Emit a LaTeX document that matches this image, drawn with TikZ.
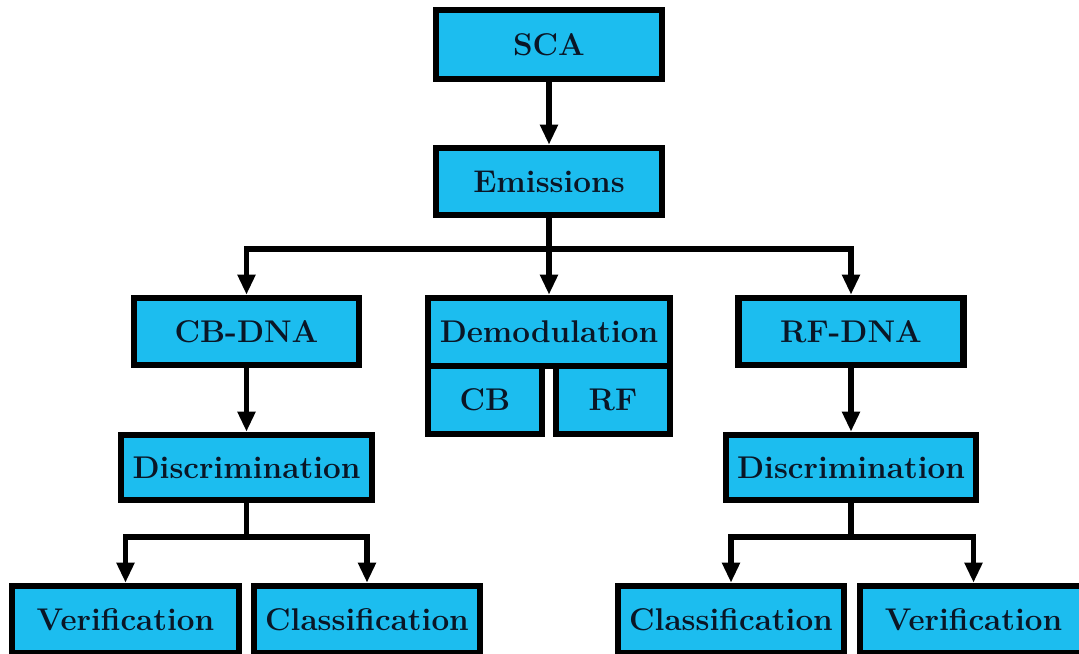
\documentclass[tikz,border=0pt]{standalone}
\usetikzlibrary{arrows.meta}
\definecolor{boxfill}{RGB}{28,189,239}
\definecolor{boxtext}{RGB}{10,22,38}
\begin{document}
\begin{tikzpicture}[x=0.5pt,y=-0.5pt,
  box/.style={draw=black, line width=3.3pt, fill=boxfill, rectangle, inner sep=0pt,
    minimum height=33.5pt, text=boxtext,
    font=\fontsize{15.7}{18}\selectfont\bfseries},
  arr/.style={line width=2.9pt, -{Triangle[width=8.5pt,length=10pt]}},
  ln/.style={line width=2.9pt}]
\useasboundingbox (0,0) rectangle (1079,653);
\clip (0,0) rectangle (1079,653);
\fill[white] (0,0) rectangle (1079,653);
% nodes
\node[box, minimum width=113pt, minimum height=34.5pt] (sca) at (549,44.5) {SCA};
\node[box, minimum width=113pt] (emis) at (549,181.5) {Emissions};
\node[box, minimum width=112.5pt] (cbdna) at (246.5,331.5) {CB-DNA};
\node[box, minimum width=112.5pt] (rfdna) at (851,331.5) {RF-DNA};
\node[box, minimum width=121pt, minimum height=34pt] (demod) at (549,332) {Demodulation};
\node[box, minimum width=57pt, minimum height=34pt] (cb) at (485,400) {CB};
\node[box, minimum width=57pt, minimum height=34pt] (rf) at (613,400) {RF};
\node[box, minimum width=125.5pt, minimum height=32.5pt] (discl) at (246.5,467.5) {Discrimination};
\node[box, minimum width=125pt, minimum height=32.5pt] (discr) at (851,467.5) {Discrimination};
\node[box, minimum width=113.5pt] (verl) at (125.5,619.5) {Verification};
\node[box, minimum width=113pt] (clal) at (367,619.5) {Classification};
\node[box, minimum width=113pt] (clar) at (731,619.5) {Classification};
\node[box, minimum width=113.5pt] (verr) at (973.5,619.5) {Verification};
% junctions
\coordinate (j1) at (549,249);
\coordinate (j2) at (246.5,537);
\coordinate (j3) at (851,537);
% connectors
\draw[arr] (sca.south) -- (emis.north);
\draw[ln] (emis.south) -- (j1);
\draw[arr] (j1) -- (demod.north);
\draw[arr] (j1) -| (cbdna.north);
\draw[arr] (j1) -| (rfdna.north);
\draw[arr] (cbdna.south) -- (discl.north);
\draw[arr] (rfdna.south) -- (discr.north);
\draw[ln] (discl.south) -- (j2);
\draw[arr] (j2) -| (verl.north);
\draw[arr] (j2) -| (clal.north);
\draw[ln] (discr.south) -- (j3);
\draw[arr] (j3) -| (clar.north);
\draw[arr] (j3) -| (verr.north);
\end{tikzpicture}
\end{document}
